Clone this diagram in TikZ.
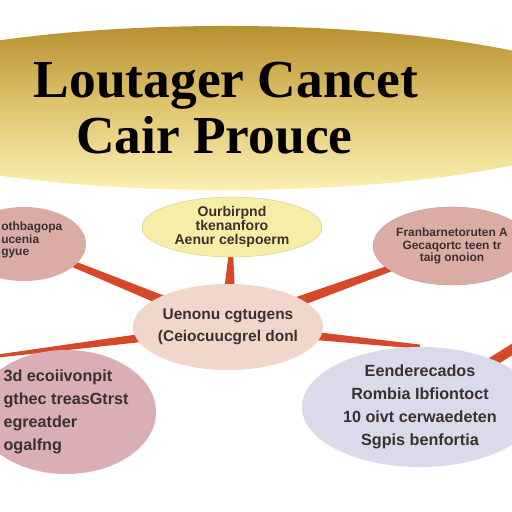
\documentclass[tikz,border=0pt]{standalone}
\usepackage{fontspec}
\setmainfont{Liberation Serif}
\newfontfamily\bubblefont{Liberation Sans}
\usetikzlibrary{shapes.geometric,calc,backgrounds}
\definecolor{goldtop}{RGB}{184,144,48}
\definecolor{goldmid}{RGB}{224,198,112}
\definecolor{goldbot}{RGB}{249,240,178}
\definecolor{yelfill}{RGB}{246,238,166}
\definecolor{pinkfill}{RGB}{219,172,166}
\definecolor{peachfill}{RGB}{241,214,204}
\definecolor{rosefill}{RGB}{218,174,180}
\definecolor{lilacfill}{RGB}{218,218,234}
\definecolor{spokered}{RGB}{214,72,40}
\definecolor{inkgray}{RGB}{58,48,48}
% tapered connector: half width #3 at node #1, half width #4 at node #2
\newcommand{\spoke}[4]{%
  \fill[spokered] ($(#1)!#3!90:(#2)$) -- ($(#2)!#4!-90:(#1)$)
    -- ($(#2)!#4!90:(#1)$) -- ($(#1)!#3!-90:(#2)$) -- cycle;}
\begin{document}
\begin{tikzpicture}[x=0.025cm, y=-0.025cm, line join=round,
  bubble/.style={ellipse, inner sep=0pt, align=center, text=inkgray},
  tiny/.style={font=\bubblefont\bfseries\fontsize{8.5}{9}\selectfont},
  small/.style={font=\bubblefont\bfseries\fontsize{10}{10}\selectfont},
  big/.style={font=\bubblefont\bfseries\fontsize{11.5}{16.5}\selectfont}]
  \useasboundingbox (0,0) rectangle (512,512);
  % title
  \node[ellipse, minimum width=20cm, minimum height=4.1cm, inner sep=0pt,
    top color=goldtop, bottom color=goldbot, middle color=goldmid,
    align=left, font=\bfseries\fontsize{38}{40}\selectfont] (title)
    at (226,108) {Loutager Cancet\\\hspace*{30pt}Cair Prouce};
  % bubbles
  \node[bubble, small, fill=yelfill, draw=yelfill!85!black, line width=.3pt,
    minimum width=4.5cm, minimum height=1.5cm] (yel) at (232,227)
    {Ourbirpnd\\tkenanforo\\Aenur celspoerm};
  \node[bubble, fill=pinkfill, minimum width=3.1cm,
    minimum height=1.85cm] (tl) at (24,244) {};
  \node[tiny, text=inkgray, align=left, anchor=west, inner sep=0pt]
    (tltxt) at (1,240) {othbagopa\\ucenia\\gyue};
  \node[bubble, tiny, fill=pinkfill, draw=pinkfill!90!black, line width=.3pt,
    minimum width=3.6cm, minimum height=1.95cm] (tr) at (452,246)
    {Franbarnetoruten A\\Gecaqortc teen tr\\taig onoion};
  \node[bubble, big, font=\bubblefont\bfseries\fontsize{11}{16}\selectfont,
    inner xsep=-7pt, fill=peachfill, minimum width=4.75cm,
    minimum height=2.15cm] (mid) at (228,327)
    {Uenonu cgtugens\\(Ceiocuucgrel donl};
  \node[bubble, big, align=left, fill=rosefill, minimum width=4.5cm,
    minimum height=3.1cm] (bl) at (66,412)
    {3d ecoiivonpit\\gthec treasGtrst\\egreatder\\ogalfng};
  \node[bubble, big, fill=lilacfill, minimum width=5.9cm,
    minimum height=3cm] (br) at (420,407)
    {Eenderecados\\Rombia Ibfiontoct\\10 oivt cerwaedeten\\Sgpis benfortia};
  \coordinate (blend) at (-10,357);
  \coordinate (rend) at (540,332);
  % connectors
  \begin{scope}[on background layer]
    \fill[white] (0,0) rectangle (512,512);
    \spoke{mid}{yel}{6pt}{0pt}
    \spoke{mid}{tl}{4.5pt}{1.5pt}
    \spoke{mid}{tr}{4.5pt}{1.5pt}
    \spoke{mid}{blend}{4pt}{1pt}
    \spoke{mid}{br.north}{4pt}{1.5pt}
    \spoke{br}{rend}{3.5pt}{3.5pt}
  \end{scope}
\end{tikzpicture}
\end{document}
